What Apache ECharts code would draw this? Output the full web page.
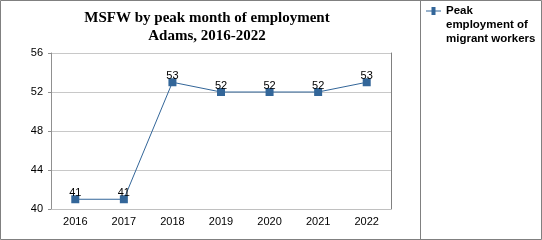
<!DOCTYPE html>
<html>
<head>
<meta charset="utf-8">
<script src="https://cdn.jsdelivr.net/npm/echarts@6/dist/echarts.min.js"></script>
<style>html,body{margin:0;padding:0;background:#fff}#c{width:542px;height:240px}</style>
</head>
<body>
<div id="c"></div>
<script>
const categories = ['2016', '2017', '2018', '2019', '2020', '2021', '2022'];
const peakMigrant = [41, 41, 53, 52, 52, 52, 53];
const seriesName = 'Peak\nemployment of\nmigrant workers';
const titleText = 'MSFW by peak month of employment\nAdams, 2016-2022';

const chart = echarts.init(document.getElementById('c'), null, {renderer: 'canvas'});
const blue = '#336699';
chart.setOption({
  animation: false,
  backgroundColor: '#fff',
  title: {
    text: titleText,
    left: 202, top: 4, textAlign: 'center',
    textStyle: {fontFamily: 'Liberation Serif', fontWeight: 'bold', fontSize: 15, lineHeight: 18, color: '#000'}
  },
  legend: {
    left: 426, top: 4, padding: 0, orient: 'vertical',
    itemWidth: 15, itemHeight: 42, itemGap: 4,
    icon: 'path://M0,0 L0.01,0 Z M0,42 L0.01,42 Z M0,6.5 L5.5,6.5 L5.5,3 L9.5,3 L9.5,6.5 L15,6.5 L15,7.5 L9.5,7.5 L9.5,11 L5.5,11 L5.5,7.5 L0,7.5 Z',
    textStyle: {fontFamily: 'Liberation Sans', fontWeight: 'bold', fontSize: 11.5, lineHeight: 14, color: '#000'},
    data: [{name: seriesName, itemStyle: {color: blue}}]
  },
  grid: {left: 51, right: 151, top: 53, bottom: 31},
  xAxis: {
    type: 'category', data: categories, boundaryGap: true,
    axisLine: {lineStyle: {color: '#c0c0c0', width: 1}},
    axisTick: {alignWithLabel: true, length: 4, lineStyle: {color: '#a0a0a0'}},
    axisLabel: {fontFamily: 'Liberation Sans', fontSize: 11, color: '#000', margin: 7}
  },
  yAxis: [{
    type: 'value', min: 40, max: 56, interval: 4,
    axisLine: {show: true, lineStyle: {color: '#909090'}},
    axisTick: {show: true, length: 3, lineStyle: {color: '#909090'}},
    axisLabel: {fontFamily: 'Liberation Sans', fontSize: 11, color: '#000', margin: 8},
    splitLine: {lineStyle: {color: '#c8c8c8'}}
  }, {
    type: 'value', min: 40, max: 56, interval: 4, position: 'right',
    axisLine: {show: true, lineStyle: {color: '#808080'}},
    axisTick: {show: false}, axisLabel: {show: false}, splitLine: {show: false}
  }],
  series: [{
    name: seriesName, type: 'line', data: peakMigrant,
    symbol: 'rect', symbolSize: 8,
    lineStyle: {color: blue, width: 1},
    itemStyle: {color: blue},
    label: {show: true, position: 'top', distance: -3, fontFamily: 'Liberation Sans', fontSize: 11, color: '#000'}
  }],
  graphic: [
    {type: 'rect', shape: {x: 0.5, y: 0.5, width: 541, height: 239}, style: {fill: 'none', stroke: '#808080', lineWidth: 1}, silent: true},
    {type: 'line', shape: {x1: 420.5, y1: 0, x2: 420.5, y2: 240}, style: {stroke: '#808080', lineWidth: 1}, silent: true}
  ]
});
</script>
</body>
</html>
